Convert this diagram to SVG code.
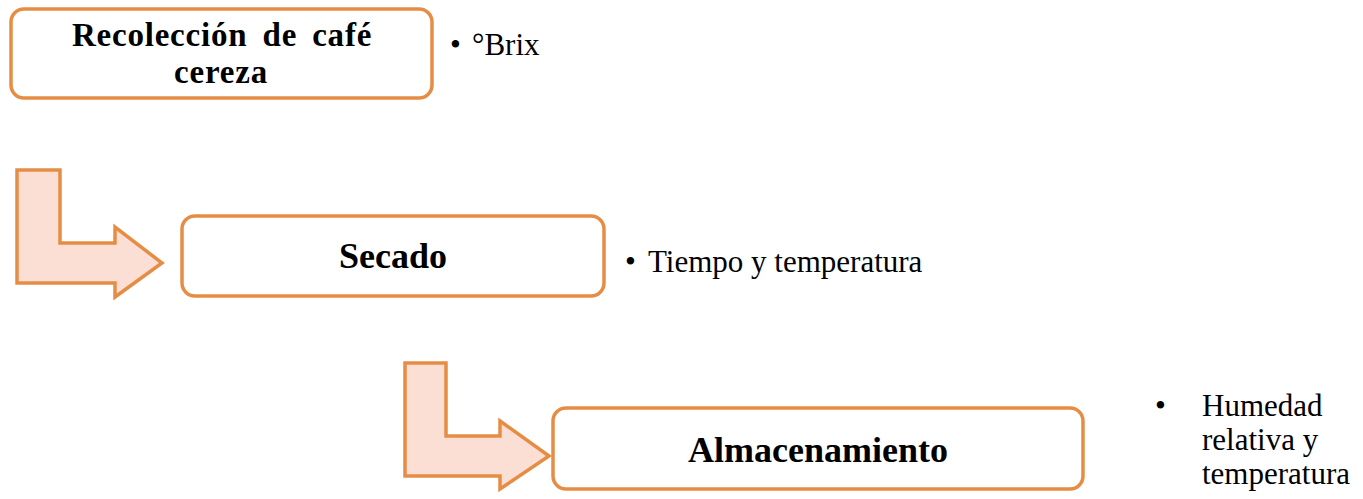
<svg xmlns="http://www.w3.org/2000/svg" width="1363" height="499" viewBox="0 0 1363 499">
<style>
.box{fill:#ffffff;stroke:#E68D45;stroke-width:3.5}
.arr{fill:#FCDFD4;stroke:#E68D45;stroke-width:3.5;stroke-linejoin:miter}
.t{font-family:"Liberation Serif","Times New Roman",serif;fill:#000}
.b{font-weight:bold;font-size:36px;text-anchor:middle}
.b2{font-size:33px}
.r{font-size:31px}
</style>
<rect width="1363" height="499" fill="#ffffff"/>
<g id="connectors">
<polygon class="arr" points="17,170 60,170 60,243 115,243 115,227 162,263 115,297 115,283 17,283"/>
<polygon class="arr" points="405,363 446,363 446,436 500,436 500,421 549,456 500,489 500,476 405,476"/>
</g>
<g id="node-recoleccion">
<rect class="box" x="11" y="9" width="421" height="89" rx="13"/>
<text class="t b b2"><tspan x="222" y="46" letter-spacing="0.8" word-spacing="6">Recolección de café</tspan><tspan x="221" y="83" letter-spacing="0.8">cereza</tspan></text>
</g>
<g id="note-brix">
<text class="t r" x="450" y="55">•</text>
<text class="t r" x="472" y="55">°Brix</text>
</g>
<g id="node-secado">
<rect class="box" x="182" y="216" width="422" height="80" rx="13"/>
<text class="t b" x="393" y="268">Secado</text>
</g>
<g id="note-secado">
<text class="t r" x="625" y="272">•</text>
<text class="t r" x="648" y="272">Tiempo y temperatura</text>
</g>
<g id="node-almacenamiento">
<rect class="box" x="553" y="408" width="530" height="81" rx="13"/>
<text class="t b" x="818" y="462">Almacenamiento</text>
</g>
<g id="note-almacenamiento">
<text class="t r" x="1155" y="416">•</text>
<text class="t r" x="1202" y="416">Humedad</text>
<text class="t r" x="1202" y="450">relativa y</text>
<text class="t r" x="1202" y="484">temperatura</text>
</g>
</svg>
